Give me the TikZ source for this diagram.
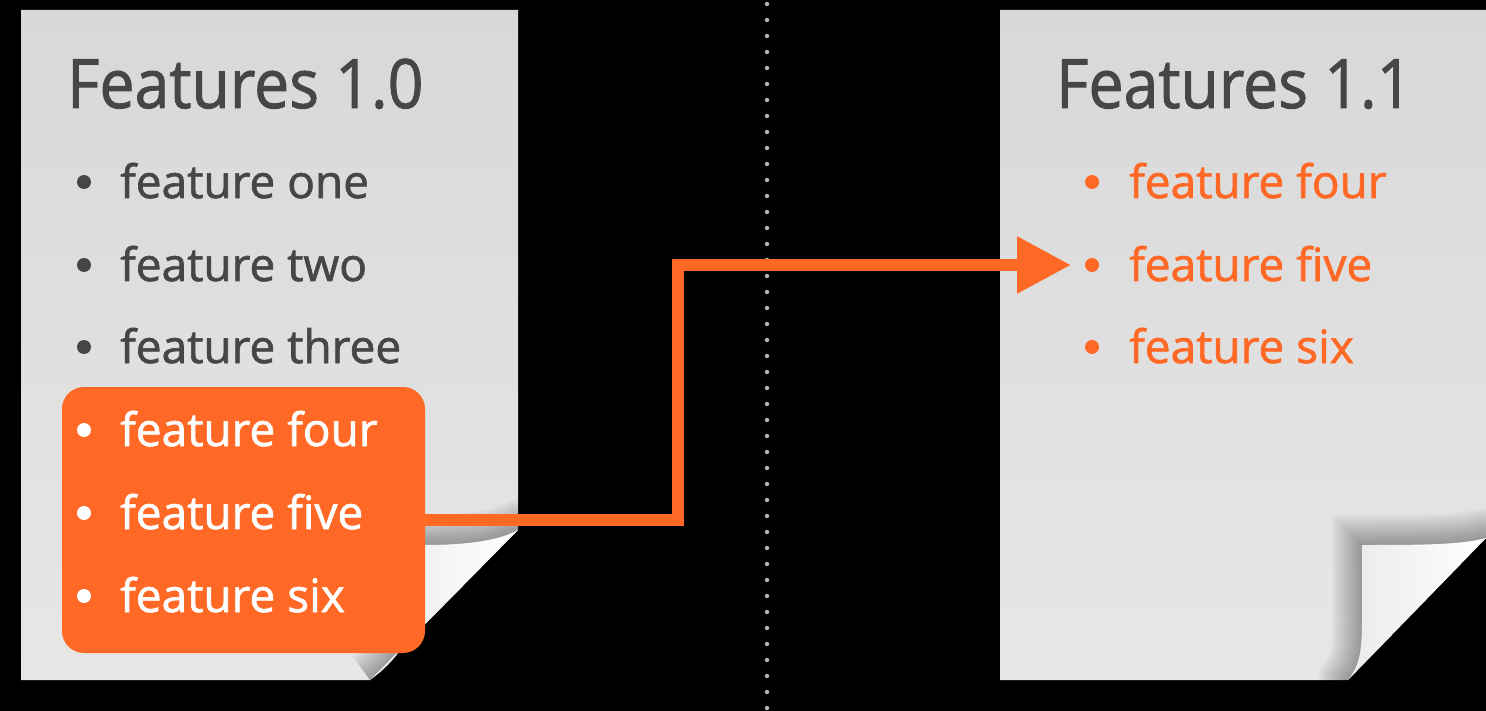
\documentclass[tikz,border=0pt]{standalone}
\usepackage{fontspec}
\setmainfont{Open Sans}[FakeBold=1.6]
\newfontfamily\medfont{Open Sans}[FakeBold=1.4]
\usetikzlibrary{arrows.meta}
\definecolor{rhorange}{HTML}{FF6925}
\definecolor{txtgray}{HTML}{464646}
\definecolor{pagetop}{HTML}{D8D8D8}
\definecolor{pagebot}{HTML}{E7E7E7}
\definecolor{dotgray}{HTML}{B4B4B4}
\tikzset{
  pagebody/.style={top color=pagetop, bottom color=pagebot, draw=none},
  titletext/.style={anchor=base west, inner sep=0pt, text=txtgray, font=\medfont\fontsize{68}{72}\selectfont},
  itemtext/.style={anchor=base west, inner sep=0pt, font=\medfont\fontsize{46}{50}\selectfont},
  bulletdot/.style={circle, inner sep=0pt, minimum size=14pt},
  flap/.style={left color=gray!16, right color=white, draw=none},
  connector/.style={draw=rhorange, line width=12pt, -{Triangle[length=54pt,width=54pt]}},
}
\begin{document}
\begin{tikzpicture}[x=1pt,y=-1pt]
\useasboundingbox (0,0) rectangle (1486,711);
\fill[black] (0,0) rectangle (1486,711);
% dotted divider
\draw[dotgray, line width=4.5pt, line cap=round, dash pattern=on 0pt off 16pt] (767,4) -- (767,711);
% ---------- left page ----------
\path[pagebody] (21,10) -- (518,10) -- (518,530) -- (370,680) -- (21,680) -- cycle;
\begin{scope}
\clip (21,10) -- (518,10) -- (518,530) -- (370,680) -- (21,680) -- cycle;
\foreach \w in {4,8,...,60}
  \draw[black, opacity=0.025, line width=\w pt] (370,680) .. controls (405,655) and (425,620) .. (425,545) .. controls (470,545) and (500,540) .. (518,530) -- (560,530);
\end{scope}
\path[flap] (425,545) .. controls (470,545) and (500,540) .. (518,530) -- (370,680) .. controls (405,655) and (425,620) .. (425,545) -- cycle;
% ---------- right page ----------
\path[pagebody] (1000,10) -- (1486,10) -- (1486,538) -- (1348,680) -- (1000,680) -- cycle;
\begin{scope}
\clip (1000,10) -- (1486,10) -- (1486,538) -- (1348,680) -- (1000,680) -- cycle;
\foreach \w in {4,8,...,60}
  \draw[black, opacity=0.025, line width=\w pt] (1348,690) -- (1348,680) .. controls (1360,665) and (1362,650) .. (1362,620) -- (1362,545) .. controls (1420,545) and (1460,545) .. (1486,538) -- (1530,538);
\end{scope}
\path[flap] (1362,545) .. controls (1420,545) and (1460,545) .. (1486,538) -- (1348,680) .. controls (1360,665) and (1362,650) .. (1362,620) -- cycle;
% ---------- titles ----------
\node[titletext] (t1) at (67,108) {\scalebox{0.92}[1]{Features 1.0}};
\node[titletext] (t2) at (1056,108) {\scalebox{0.92}[1]{Features 1.1}};
% ---------- left list ----------
\node[fill=rhorange, rounded corners=22pt, minimum width=363pt, minimum height=266pt, inner sep=0pt] (obox) at (243.5,520) {};
\foreach \y/\t/\c [count=\i] in {198/feature one/txtgray, 281/feature two/txtgray, 363/feature three/txtgray, 446/feature four/white, 529/feature five/white, 612/feature six/white}{
  \node[bulletdot, fill=\c] (lb\i) at (84,\y-16) {};
  \node[itemtext, text=\c] (li\i) at (120,\y) {\t};
}
% ---------- right list ----------
\foreach \y/\t [count=\i] in {198/feature four, 281/feature five, 363/feature six}{
  \node[bulletdot, fill=rhorange] (rb\i) at (1092,\y-16) {};
  \node[itemtext, text=rhorange] (ri\i) at (1129,\y) {\t};
}
% ---------- connector ----------
\coordinate (bend) at (678,0);
\coordinate (tgt) at (1071,265);
\draw[connector] (obox.east) -- (obox.east -| bend) -- (bend |- tgt) -- (tgt);
\end{tikzpicture}
\end{document}
